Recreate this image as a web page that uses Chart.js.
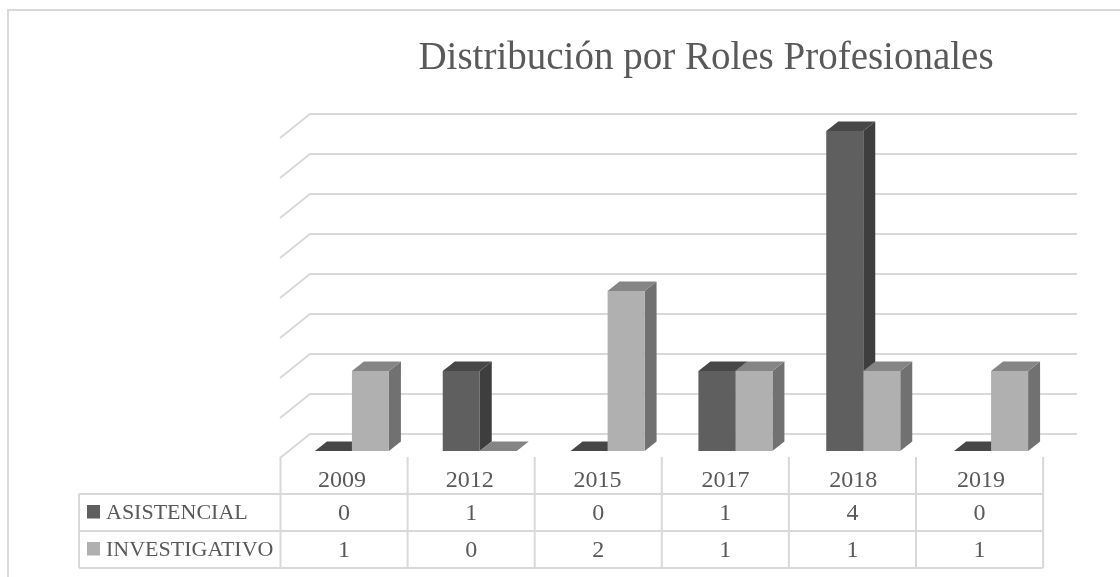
<!DOCTYPE html>
<html>
<head>
<meta charset="utf-8">
<title>Distribución por Roles Profesionales</title>
<script src="https://cdn.jsdelivr.net/npm/chart.js@4"></script>
<style>
  html, body { margin: 0; padding: 0; background: #fff; }
  #wrap { position: relative; width: 1120px; height: 577px; overflow: hidden; }
  canvas { display: block; }
</style>
</head>
<body>
<div id="wrap"><canvas id="grafico" width="1120" height="577"></canvas></div>
<script>
const titulo = 'Distribución por Roles Profesionales';
const anios = ['2009', '2012', '2015', '2017', '2018', '2019'];
const asistencial = [0, 1, 0, 1, 4, 0];
const investigativo = [1, 0, 2, 1, 1, 1];
const nombresSeries = ['ASISTENCIAL', 'INVESTIGATIVO'];
const ticksEjeY = [0, 0.5, 1, 1.5, 2, 2.5, 3, 3.5, 4];

const FUENTE = '"Liberation Serif", serif';
const GRIS_LINEA = '#d9d9d9';
const GRIS_TEXTO = '#595959';

// colores de cada cara: frente, lado, tapa
const caras = [
  { frente: '#5f5f5f', lado: '#3e3e3e', tapa: '#474747' },
  { frente: '#b0b0b0', lado: '#717171', tapa: '#858585' }
];

// profundidad de las barras
const DX = 12, DY = 9.5;

function poligono(ctx, puntos, color) {
  ctx.beginPath();
  puntos.forEach((p, i) => i ? ctx.lineTo(p[0], p[1]) : ctx.moveTo(p[0], p[1]));
  ctx.closePath();
  ctx.fillStyle = color;
  ctx.fill();
}

const plugin3d = {
  id: 'plugin3d',
  afterLayout(chart) {
    // el titulo no va centrado sobre el area del grafico
    chart.titleBlock.left = 380;
    chart.titleBlock.right = 1032;
  },
  beforeDatasetsDraw(chart) {
    const ctx = chart.ctx;
    const y = chart.scales.y;
    ctx.save();

    // paredes: lineas de la cuadricula con su tramo inclinado
    ctx.strokeStyle = GRIS_LINEA;
    ctx.lineWidth = 2;
    ticksEjeY.forEach(v => {
      const py = y.getPixelForValue(v);
      ctx.beginPath();
      ctx.moveTo(280, py + 7);
      ctx.lineTo(310, py - 17);
      ctx.lineTo(1077, py - 17);
      ctx.stroke();
    });

    // lados y tapas de las barras, el frente lo pinta Chart.js
    chart.data.datasets.forEach((ds, d) => {
      chart.getDatasetMeta(d).data.forEach(bar => {
        const w = bar.width / 2;
        const izq = bar.x - w, der = bar.x + w;
        if (bar.base - bar.y > 0) {
          poligono(ctx, [[der, bar.y], [der + DX, bar.y - DY], [der + DX, bar.base - DY], [der, bar.base]], caras[d].lado);
        }
        poligono(ctx, [[izq, bar.y], [der, bar.y], [der + DX, bar.y - DY], [izq + DX, bar.y - DY]], caras[d].tapa);
      });
    });
    ctx.restore();
  },
  afterDraw(chart) {
    const ctx = chart.ctx;
    const xCol = i => 280.5 + 127.1 * i;
    const filas = [494, 531, 568];
    ctx.save();

    // marco exterior, a la derecha se sale de la imagen
    ctx.strokeStyle = GRIS_LINEA;
    ctx.lineWidth = 2;
    ctx.beginPath();
    ctx.moveTo(8, 577);
    ctx.lineTo(8, 10);
    ctx.lineTo(1120, 10);
    ctx.stroke();

    // tabla de datos
    ctx.beginPath();
    anios.forEach((a, i) => {
      ctx.moveTo(xCol(i), 457);
      ctx.lineTo(xCol(i), filas[2]);
    });
    ctx.moveTo(xCol(anios.length), 457);
    ctx.lineTo(xCol(anios.length), filas[2]);
    ctx.moveTo(79, filas[0]);
    ctx.lineTo(79, filas[2]);
    filas.forEach(f => {
      ctx.moveTo(79, f);
      ctx.lineTo(xCol(anios.length), f);
    });
    ctx.stroke();

    ctx.textBaseline = 'middle';
    [asistencial, investigativo].forEach((serie, s) => {
      const yFila = (filas[s] + filas[s + 1]) / 2 + 1;
      ctx.fillStyle = caras[s].frente;
      ctx.fillRect(87, yFila - 8.5, 13, 13.5);
      ctx.fillStyle = GRIS_TEXTO;
      ctx.font = '22px ' + FUENTE;
      ctx.textAlign = 'left';
      ctx.fillText(nombresSeries[s], 106, yFila);
      ctx.font = '24px ' + FUENTE;
      ctx.textAlign = 'center';
      serie.forEach((v, i) => ctx.fillText(String(v), (xCol(i) + xCol(i + 1)) / 2, yFila));
    });
    ctx.restore();
  }
};

new Chart(document.getElementById('grafico'), {
  type: 'bar',
  data: {
    labels: anios,
    datasets: [
      { label: nombresSeries[0], data: asistencial, backgroundColor: caras[0].frente, borderWidth: 0 },
      { label: nombresSeries[1], data: investigativo, backgroundColor: caras[1].frente, borderWidth: 0 }
    ]
  },
  options: {
    responsive: false,
    animation: false,
    layout: { padding: { left: 288, right: 65, top: 0, bottom: 0 } },
    categoryPercentage: 0.579,
    barPercentage: 1,
    scales: {
      x: {
        grid: { display: false },
        border: { display: false },
        ticks: {
          color: GRIS_TEXTO,
          font: { family: FUENTE, size: 24 },
          padding: 7,
          labelOffset: -10,
          maxRotation: 0
        },
        afterFit(axis) { axis.height = 126; }
      },
      y: {
        display: false,
        min: 0,
        max: 4,
        ticks: { stepSize: 0.5 }
      }
    },
    plugins: {
      legend: { display: false },
      tooltip: { enabled: false },
      title: {
        display: true,
        text: titulo,
        color: GRIS_TEXTO,
        font: { family: FUENTE, size: 39, weight: 'normal' },
        padding: { top: 35, bottom: 49.2 }
      }
    }
  },
  plugins: [plugin3d]
});
</script>
</body>
</html>
